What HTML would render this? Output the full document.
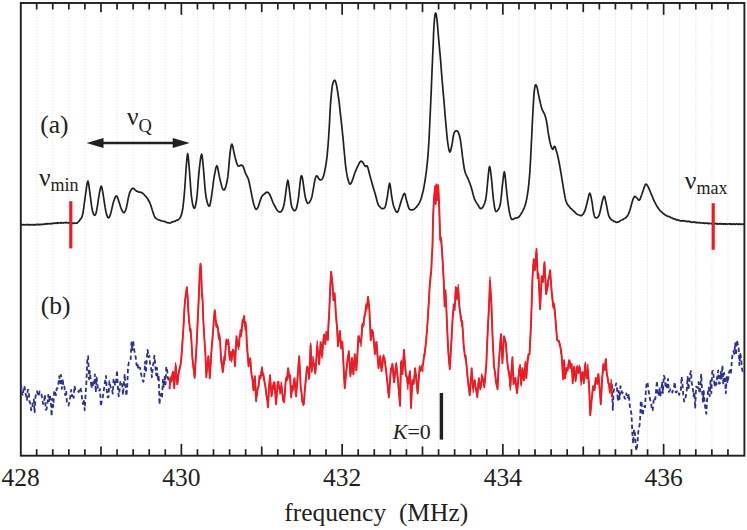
<!DOCTYPE html>
<html><head><meta charset="utf-8"><title>NMR spectrum</title>
<style>
html,body{margin:0;padding:0;background:#fff;}
body{width:747px;height:530px;overflow:hidden;font-family:"Liberation Serif",serif;}
svg{display:block;}
text{font-family:"Liberation Serif",serif;fill:#231f20;}
</style></head><body>
<svg width="747" height="530" viewBox="0 0 747 530">
<rect width="747" height="530" fill="#fff"/>
<g stroke="#e6e7ea" stroke-width="1" stroke-dasharray="1.7 1.5" fill="none">
<line x1="36.68" y1="4.0" x2="36.68" y2="454.7"/><line x1="52.75" y1="4.0" x2="52.75" y2="454.7"/><line x1="68.83" y1="4.0" x2="68.83" y2="454.7"/><line x1="84.90" y1="4.0" x2="84.90" y2="454.7"/><line x1="100.98" y1="4.0" x2="100.98" y2="454.7"/><line x1="117.06" y1="4.0" x2="117.06" y2="454.7"/><line x1="133.13" y1="4.0" x2="133.13" y2="454.7"/><line x1="149.21" y1="4.0" x2="149.21" y2="454.7"/><line x1="165.28" y1="4.0" x2="165.28" y2="454.7"/><line x1="181.36" y1="4.0" x2="181.36" y2="454.7"/><line x1="197.44" y1="4.0" x2="197.44" y2="454.7"/><line x1="213.51" y1="4.0" x2="213.51" y2="454.7"/><line x1="229.59" y1="4.0" x2="229.59" y2="454.7"/><line x1="245.66" y1="4.0" x2="245.66" y2="454.7"/><line x1="261.74" y1="4.0" x2="261.74" y2="454.7"/><line x1="277.82" y1="4.0" x2="277.82" y2="454.7"/><line x1="293.89" y1="4.0" x2="293.89" y2="454.7"/><line x1="309.97" y1="4.0" x2="309.97" y2="454.7"/><line x1="326.04" y1="4.0" x2="326.04" y2="454.7"/><line x1="342.12" y1="4.0" x2="342.12" y2="454.7"/><line x1="358.20" y1="4.0" x2="358.20" y2="454.7"/><line x1="374.27" y1="4.0" x2="374.27" y2="454.7"/><line x1="390.35" y1="4.0" x2="390.35" y2="454.7"/><line x1="406.42" y1="4.0" x2="406.42" y2="454.7"/><line x1="422.50" y1="4.0" x2="422.50" y2="454.7"/><line x1="438.58" y1="4.0" x2="438.58" y2="454.7"/><line x1="454.65" y1="4.0" x2="454.65" y2="454.7"/><line x1="470.73" y1="4.0" x2="470.73" y2="454.7"/><line x1="486.80" y1="4.0" x2="486.80" y2="454.7"/><line x1="502.88" y1="4.0" x2="502.88" y2="454.7"/><line x1="518.96" y1="4.0" x2="518.96" y2="454.7"/><line x1="535.03" y1="4.0" x2="535.03" y2="454.7"/><line x1="551.11" y1="4.0" x2="551.11" y2="454.7"/><line x1="567.18" y1="4.0" x2="567.18" y2="454.7"/><line x1="583.26" y1="4.0" x2="583.26" y2="454.7"/><line x1="599.34" y1="4.0" x2="599.34" y2="454.7"/><line x1="615.41" y1="4.0" x2="615.41" y2="454.7"/><line x1="631.49" y1="4.0" x2="631.49" y2="454.7"/><line x1="647.56" y1="4.0" x2="647.56" y2="454.7"/><line x1="663.64" y1="4.0" x2="663.64" y2="454.7"/><line x1="679.72" y1="4.0" x2="679.72" y2="454.7"/><line x1="695.79" y1="4.0" x2="695.79" y2="454.7"/><line x1="711.87" y1="4.0" x2="711.87" y2="454.7"/><line x1="727.94" y1="4.0" x2="727.94" y2="454.7"/>
</g>
<g stroke="#231f20" stroke-width="1.7" fill="none">
<line x1="36.68" y1="3.0" x2="36.68" y2="9.5"/><line x1="36.68" y1="455.7" x2="36.68" y2="449.2"/><line x1="52.75" y1="3.0" x2="52.75" y2="9.5"/><line x1="52.75" y1="455.7" x2="52.75" y2="449.2"/><line x1="68.83" y1="3.0" x2="68.83" y2="9.5"/><line x1="68.83" y1="455.7" x2="68.83" y2="449.2"/><line x1="84.90" y1="3.0" x2="84.90" y2="9.5"/><line x1="84.90" y1="455.7" x2="84.90" y2="449.2"/><line x1="100.98" y1="3.0" x2="100.98" y2="12.2"/><line x1="100.98" y1="455.7" x2="100.98" y2="446.5"/><line x1="117.06" y1="3.0" x2="117.06" y2="9.5"/><line x1="117.06" y1="455.7" x2="117.06" y2="449.2"/><line x1="133.13" y1="3.0" x2="133.13" y2="9.5"/><line x1="133.13" y1="455.7" x2="133.13" y2="449.2"/><line x1="149.21" y1="3.0" x2="149.21" y2="9.5"/><line x1="149.21" y1="455.7" x2="149.21" y2="449.2"/><line x1="165.28" y1="3.0" x2="165.28" y2="9.5"/><line x1="165.28" y1="455.7" x2="165.28" y2="449.2"/><line x1="181.36" y1="3.0" x2="181.36" y2="14.8"/><line x1="181.36" y1="455.7" x2="181.36" y2="443.9"/><line x1="197.44" y1="3.0" x2="197.44" y2="9.5"/><line x1="197.44" y1="455.7" x2="197.44" y2="449.2"/><line x1="213.51" y1="3.0" x2="213.51" y2="9.5"/><line x1="213.51" y1="455.7" x2="213.51" y2="449.2"/><line x1="229.59" y1="3.0" x2="229.59" y2="9.5"/><line x1="229.59" y1="455.7" x2="229.59" y2="449.2"/><line x1="245.66" y1="3.0" x2="245.66" y2="9.5"/><line x1="245.66" y1="455.7" x2="245.66" y2="449.2"/><line x1="261.74" y1="3.0" x2="261.74" y2="12.2"/><line x1="261.74" y1="455.7" x2="261.74" y2="446.5"/><line x1="277.82" y1="3.0" x2="277.82" y2="9.5"/><line x1="277.82" y1="455.7" x2="277.82" y2="449.2"/><line x1="293.89" y1="3.0" x2="293.89" y2="9.5"/><line x1="293.89" y1="455.7" x2="293.89" y2="449.2"/><line x1="309.97" y1="3.0" x2="309.97" y2="9.5"/><line x1="309.97" y1="455.7" x2="309.97" y2="449.2"/><line x1="326.04" y1="3.0" x2="326.04" y2="9.5"/><line x1="326.04" y1="455.7" x2="326.04" y2="449.2"/><line x1="342.12" y1="3.0" x2="342.12" y2="14.8"/><line x1="342.12" y1="455.7" x2="342.12" y2="443.9"/><line x1="358.20" y1="3.0" x2="358.20" y2="9.5"/><line x1="358.20" y1="455.7" x2="358.20" y2="449.2"/><line x1="374.27" y1="3.0" x2="374.27" y2="9.5"/><line x1="374.27" y1="455.7" x2="374.27" y2="449.2"/><line x1="390.35" y1="3.0" x2="390.35" y2="9.5"/><line x1="390.35" y1="455.7" x2="390.35" y2="449.2"/><line x1="406.42" y1="3.0" x2="406.42" y2="9.5"/><line x1="406.42" y1="455.7" x2="406.42" y2="449.2"/><line x1="422.50" y1="3.0" x2="422.50" y2="12.2"/><line x1="422.50" y1="455.7" x2="422.50" y2="446.5"/><line x1="438.58" y1="3.0" x2="438.58" y2="9.5"/><line x1="438.58" y1="455.7" x2="438.58" y2="449.2"/><line x1="454.65" y1="3.0" x2="454.65" y2="9.5"/><line x1="454.65" y1="455.7" x2="454.65" y2="449.2"/><line x1="470.73" y1="3.0" x2="470.73" y2="9.5"/><line x1="470.73" y1="455.7" x2="470.73" y2="449.2"/><line x1="486.80" y1="3.0" x2="486.80" y2="9.5"/><line x1="486.80" y1="455.7" x2="486.80" y2="449.2"/><line x1="502.88" y1="3.0" x2="502.88" y2="14.8"/><line x1="502.88" y1="455.7" x2="502.88" y2="443.9"/><line x1="518.96" y1="3.0" x2="518.96" y2="9.5"/><line x1="518.96" y1="455.7" x2="518.96" y2="449.2"/><line x1="535.03" y1="3.0" x2="535.03" y2="9.5"/><line x1="535.03" y1="455.7" x2="535.03" y2="449.2"/><line x1="551.11" y1="3.0" x2="551.11" y2="9.5"/><line x1="551.11" y1="455.7" x2="551.11" y2="449.2"/><line x1="567.18" y1="3.0" x2="567.18" y2="9.5"/><line x1="567.18" y1="455.7" x2="567.18" y2="449.2"/><line x1="583.26" y1="3.0" x2="583.26" y2="12.2"/><line x1="583.26" y1="455.7" x2="583.26" y2="446.5"/><line x1="599.34" y1="3.0" x2="599.34" y2="9.5"/><line x1="599.34" y1="455.7" x2="599.34" y2="449.2"/><line x1="615.41" y1="3.0" x2="615.41" y2="9.5"/><line x1="615.41" y1="455.7" x2="615.41" y2="449.2"/><line x1="631.49" y1="3.0" x2="631.49" y2="9.5"/><line x1="631.49" y1="455.7" x2="631.49" y2="449.2"/><line x1="647.56" y1="3.0" x2="647.56" y2="9.5"/><line x1="647.56" y1="455.7" x2="647.56" y2="449.2"/><line x1="663.64" y1="3.0" x2="663.64" y2="14.8"/><line x1="663.64" y1="455.7" x2="663.64" y2="443.9"/><line x1="679.72" y1="3.0" x2="679.72" y2="9.5"/><line x1="679.72" y1="455.7" x2="679.72" y2="449.2"/><line x1="695.79" y1="3.0" x2="695.79" y2="9.5"/><line x1="695.79" y1="455.7" x2="695.79" y2="449.2"/><line x1="711.87" y1="3.0" x2="711.87" y2="9.5"/><line x1="711.87" y1="455.7" x2="711.87" y2="449.2"/><line x1="727.94" y1="3.0" x2="727.94" y2="9.5"/><line x1="727.94" y1="455.7" x2="727.94" y2="449.2"/>
</g>
<rect x="20.8" y="3.0" width="723.6" height="452.7" fill="none" stroke="#231f20" stroke-width="1.9"/>
<path d="M21.0,224.7 L22.0,224.9 L22.9,224.4 L23.9,224.9 L24.8,224.8 L25.7,224.5 L26.6,224.9 L27.5,224.5 L28.5,224.9 L29.4,224.6 L30.3,224.8 L31.3,224.9 L32.2,224.5 L33.2,225.1 L34.2,224.6 L35.1,224.9 L36.1,224.7 L37.0,224.3 L37.8,224.8 L38.7,224.3 L39.5,224.8 L40.4,224.3 L41.2,224.7 L42.1,224.3 L43.0,224.4 L43.9,224.0 L44.8,224.3 L45.7,223.7 L46.6,224.1 L47.5,223.6 L48.4,223.8 L49.3,223.5 L50.3,223.9 L51.3,223.4 L52.3,223.6 L53.2,223.2 L54.2,223.3 L55.1,223.0 L55.9,223.4 L56.8,222.9 L57.7,223.3 L58.5,222.8 L59.4,223.0 L60.3,222.7 L61.3,223.1 L62.2,222.6 L63.2,223.1 L64.1,222.8 L64.9,222.5 L65.8,222.9 L66.6,222.4 L67.4,222.9 L68.2,222.7 L69.0,223.1 L69.8,222.7 L70.7,223.2 L71.5,223.0 L72.4,223.4 L73.2,223.0 L74.1,223.4 L75.2,223.0 L76.3,223.3 L77.1,223.1 L78.0,222.3 L79.2,220.9 L80.3,219.3 L81.2,218.2 L81.9,217.0 L82.7,214.3 L83.6,209.1 L84.4,202.5 L85.3,196.2 L86.2,189.8 L87.0,183.8 L87.9,181.1 L88.7,183.9 L89.5,190.1 L90.3,196.2 L91.0,201.3 L91.6,206.2 L92.3,210.2 L93.1,212.9 L93.9,214.7 L94.7,215.3 L95.4,214.8 L96.0,213.2 L96.7,210.2 L97.6,205.0 L98.5,198.6 L99.4,193.2 L100.1,189.5 L100.8,186.8 L101.4,186.1 L102.0,188.0 L102.7,191.8 L103.4,196.2 L104.2,201.5 L105.1,207.4 L106.0,212.2 L106.8,215.2 L107.6,217.1 L108.4,217.9 L109.2,217.4 L110.0,215.7 L110.8,213.3 L111.6,209.9 L112.5,205.8 L113.4,202.2 L114.4,199.3 L115.4,196.9 L116.4,195.8 L117.2,196.6 L118.0,198.8 L118.8,201.2 L119.6,203.8 L120.5,206.8 L121.4,209.2 L122.3,211.0 L123.2,212.4 L124.1,212.7 L124.9,211.8 L125.7,210.0 L126.5,207.2 L127.4,202.8 L128.4,197.5 L129.5,193.2 L130.6,190.6 L131.7,188.9 L132.9,188.2 L134.0,188.7 L135.2,190.0 L136.5,191.2 L137.3,191.2 L138.1,191.7 L139.0,192.2 L139.9,192.0 L140.7,192.1 L141.5,192.6 L142.2,192.9 L142.9,193.5 L144.2,194.7 L145.5,196.2 L146.2,196.8 L146.9,197.9 L147.6,198.6 L148.3,200.0 L149.6,202.2 L150.6,204.8 L151.5,207.6 L152.3,210.3 L153.2,212.9 L154.0,215.3 L155.0,217.3 L156.2,218.6 L157.5,219.4 L158.3,219.9 L159.0,220.0 L159.8,220.1 L160.6,220.6 L161.5,220.9 L162.4,221.0 L163.2,221.3 L164.1,221.4 L164.9,221.6 L165.8,222.0 L166.6,222.6 L167.4,222.7 L168.3,222.7 L169.1,223.0 L169.9,223.1 L170.8,222.7 L171.6,222.1 L172.4,222.1 L173.3,221.6 L174.1,221.4 L175.0,221.3 L175.8,220.8 L176.7,220.1 L177.6,220.1 L178.3,219.8 L179.1,219.0 L180.3,217.4 L181.2,215.4 L182.1,212.3 L182.9,207.9 L183.5,202.4 L184.1,196.3 L184.7,189.3 L185.2,181.7 L185.7,174.2 L186.3,165.9 L187.0,157.7 L187.6,153.7 L188.2,156.2 L188.8,162.8 L189.4,170.2 L190.0,178.1 L190.6,186.9 L191.2,194.3 L191.9,199.6 L192.5,203.6 L193.2,206.3 L193.8,207.9 L194.4,208.3 L195.0,207.3 L195.6,205.1 L196.3,201.5 L197.0,196.3 L197.7,188.3 L198.4,178.7 L199.2,170.2 L200.0,163.0 L200.8,156.9 L201.6,154.1 L202.2,156.3 L202.8,161.8 L203.4,168.2 L204.0,175.3 L204.6,183.3 L205.2,190.2 L205.8,195.3 L206.5,199.3 L207.2,202.3 L208.0,204.7 L208.8,206.1 L209.6,205.9 L210.3,203.4 L211.1,199.2 L211.8,194.3 L212.6,188.5 L213.4,181.9 L214.3,176.2 L215.2,171.4 L216.0,167.4 L216.9,165.7 L217.7,167.7 L218.5,172.0 L219.3,176.2 L220.1,179.8 L221.0,183.4 L221.7,186.2 L222.3,188.1 L222.8,189.2 L223.3,189.8 L223.9,190.0 L224.6,189.7 L225.3,188.2 L226.1,185.3 L227.1,181.3 L227.9,176.2 L228.6,169.1 L229.3,160.9 L229.9,154.1 L230.6,149.1 L231.2,145.5 L231.9,144.1 L232.7,146.0 L233.5,150.1 L234.3,154.1 L235.1,157.4 L236.0,160.6 L236.7,163.1 L237.3,164.7 L237.8,165.6 L238.4,166.1 L239.3,166.0 L240.4,165.4 L241.4,165.1 L242.1,165.4 L242.8,166.0 L243.4,167.1 L244.0,168.8 L244.7,171.0 L245.4,173.2 L246.4,175.1 L247.4,177.0 L248.4,179.2 L249.1,181.9 L249.7,184.9 L250.4,188.2 L251.2,192.2 L252.0,196.5 L252.8,200.3 L253.5,203.2 L254.2,205.5 L254.8,207.3 L255.3,208.5 L255.9,209.2 L256.4,209.3 L257.0,208.9 L257.6,207.9 L258.4,206.3 L259.3,203.5 L260.4,200.1 L261.4,197.3 L262.4,195.7 L263.5,194.7 L264.5,193.9 L265.5,193.0 L266.5,192.3 L267.5,192.2 L268.4,192.7 L269.2,193.8 L270.1,195.3 L271.0,197.4 L272.0,200.0 L272.9,202.3 L273.8,204.2 L274.6,205.8 L275.5,207.3 L276.3,208.9 L277.2,210.3 L278.1,211.3 L279.2,211.9 L280.4,212.0 L281.5,211.3 L282.4,209.7 L283.3,207.4 L284.1,204.3 L284.8,200.0 L285.5,194.9 L286.1,190.2 L286.7,185.8 L287.3,181.9 L287.8,180.2 L288.3,181.9 L288.9,185.8 L289.4,190.2 L290.0,194.9 L290.6,200.1 L291.2,204.3 L291.8,206.8 L292.4,208.2 L293.0,209.3 L293.5,210.2 L294.0,210.6 L294.5,210.7 L295.1,210.5 L295.7,209.8 L296.4,208.3 L297.1,205.8 L297.7,202.5 L298.4,198.3 L299.1,192.4 L299.8,185.5 L300.4,180.2 L300.8,177.3 L301.2,176.0 L301.6,175.8 L302.1,176.8 L302.6,179.1 L303.1,182.2 L303.7,186.6 L304.4,191.8 L305.1,196.3 L305.9,199.6 L306.8,202.0 L307.7,203.3 L308.8,203.0 L310.0,201.4 L311.1,199.3 L311.9,196.7 L312.5,193.6 L313.1,190.2 L313.8,186.4 L314.4,182.4 L315.1,179.2 L315.7,177.2 L316.2,176.1 L316.9,175.8 L317.8,176.8 L318.7,178.6 L319.7,179.8 L320.7,180.0 L321.7,179.5 L322.7,178.2 L323.6,175.9 L324.4,172.8 L325.1,169.2 L325.8,165.6 L326.4,161.6 L327.1,156.1 L327.8,148.3 L328.5,139.2 L329.1,130.0 L329.6,121.1 L330.0,112.2 L330.5,104.3 L331.0,97.6 L331.6,91.8 L332.1,87.2 L332.6,84.2 L333.2,82.4 L333.7,81.2 L334.2,80.4 L334.6,80.2 L335.1,80.6 L335.5,81.4 L336.0,82.9 L336.5,85.2 L337.2,88.9 L337.9,93.5 L338.6,98.2 L339.2,102.7 L339.7,107.3 L340.2,112.3 L340.9,118.1 L341.6,124.4 L342.2,130.0 L342.6,134.1 L343.0,137.6 L343.4,142.0 L343.9,148.3 L344.6,155.5 L345.2,162.1 L345.8,167.5 L346.5,172.2 L347.2,176.2 L348.0,179.6 L348.8,182.2 L349.6,183.8 L350.3,184.1 L351.0,183.3 L351.8,181.8 L352.7,179.4 L353.7,176.3 L354.7,173.2 L355.9,170.3 L357.1,167.5 L358.3,165.1 L359.2,163.2 L360.1,161.8 L360.9,161.1 L361.7,161.3 L362.5,162.1 L363.3,163.1 L364.0,164.3 L364.6,165.6 L365.3,166.5 L366.0,166.4 L366.6,165.8 L367.3,166.1 L367.9,167.8 L368.6,170.3 L369.3,173.2 L370.2,176.6 L371.3,180.5 L372.3,184.2 L373.3,187.7 L374.3,191.0 L375.3,194.3 L376.2,197.8 L377.1,201.2 L377.9,203.9 L378.7,205.6 L379.6,206.5 L380.4,207.3 L381.2,208.1 L382.0,208.6 L382.8,208.7 L383.7,208.5 L384.6,207.8 L385.4,206.3 L386.1,203.6 L386.7,200.1 L387.4,196.3 L388.1,191.3 L388.9,185.9 L389.6,183.2 L390.2,185.1 L390.8,189.7 L391.4,194.3 L392.0,198.1 L392.7,202.0 L393.4,205.3 L394.4,208.1 L395.4,210.5 L396.4,211.9 L397.1,212.3 L397.7,211.8 L398.4,210.3 L399.3,207.5 L400.4,203.7 L401.4,200.3 L402.5,197.2 L403.5,194.5 L404.5,193.3 L405.2,194.6 L405.8,197.4 L406.5,200.3 L407.3,203.1 L408.1,206.1 L408.9,208.3 L409.7,209.4 L410.6,209.8 L411.5,209.9 L412.4,209.9 L413.4,209.6 L414.5,208.9 L415.8,207.7 L416.5,207.1 L417.2,206.1 L418.5,204.3 L419.6,202.3 L420.6,200.0 L421.5,197.3 L422.4,194.1 L423.3,190.4 L424.1,186.2 L424.9,181.5 L425.7,176.2 L426.5,170.2 L427.2,163.6 L427.9,156.3 L428.5,148.0 L429.1,138.2 L429.6,127.3 L430.1,116.3 L430.6,105.5 L431.1,94.5 L431.5,84.0 L431.9,74.2 L432.3,64.7 L432.7,55.0 L433.2,44.1 L433.6,32.9 L434.1,24.0 L434.6,18.3 L435.0,14.7 L435.5,13.1 L436.0,13.4 L436.4,15.5 L436.9,19.1 L437.4,24.5 L438.0,31.3 L438.6,38.2 L439.2,44.8 L439.8,51.6 L440.4,58.1 L440.9,64.1 L441.3,69.9 L441.8,76.1 L442.4,83.1 L443.0,90.5 L443.7,98.2 L444.4,106.2 L445.0,114.4 L445.7,122.2 L446.4,129.6 L447.0,136.5 L447.7,142.3 L448.4,146.9 L449.0,150.3 L449.7,152.0 L450.4,151.5 L451.0,149.2 L451.7,146.3 L452.4,142.4 L453.0,137.9 L453.7,134.3 L454.4,132.4 L455.0,131.4 L455.7,130.9 L456.5,130.7 L457.3,131.0 L458.1,131.9 L458.8,133.5 L459.5,135.7 L460.1,138.3 L460.6,141.2 L461.0,144.4 L461.5,148.0 L462.0,152.2 L462.5,156.7 L463.1,161.0 L463.7,165.0 L464.3,168.8 L465.1,172.2 L466.1,174.8 L467.1,176.9 L468.2,179.2 L469.2,181.7 L470.2,184.3 L471.2,187.2 L472.2,190.8 L473.2,194.8 L474.2,198.3 L475.4,200.9 L476.6,202.9 L477.8,204.7 L478.8,206.5 L479.8,208.0 L480.8,208.7 L481.8,208.3 L482.8,207.1 L483.8,205.3 L484.7,203.1 L485.5,200.3 L486.2,196.3 L486.9,190.0 L487.6,182.5 L488.2,176.2 L488.7,171.5 L489.1,167.9 L489.6,166.5 L490.1,167.8 L490.6,171.3 L491.2,176.2 L491.9,183.0 L492.6,191.2 L493.3,198.3 L494.0,203.5 L494.6,207.5 L495.3,210.3 L495.9,211.5 L496.6,211.5 L497.3,210.7 L498.3,209.5 L499.3,207.6 L500.3,204.3 L501.0,199.0 L501.7,192.4 L502.3,186.2 L503.0,180.1 L503.7,174.5 L504.3,171.8 L504.8,173.7 L505.4,178.7 L505.9,184.2 L506.5,190.0 L507.2,196.5 L507.9,202.3 L508.6,207.0 L509.2,211.0 L509.9,214.3 L510.5,216.8 L511.1,218.4 L511.9,219.4 L512.9,219.4 L514.1,218.7 L515.3,218.0 L516.4,217.8 L517.4,217.8 L518.4,217.3 L519.4,216.3 L520.4,214.9 L521.4,213.3 L522.4,211.6 L523.4,209.6 L524.4,207.3 L525.3,204.7 L526.1,201.8 L526.8,198.3 L527.5,194.1 L528.2,189.4 L528.8,184.2 L529.3,178.7 L529.8,172.7 L530.2,166.1 L530.6,158.6 L531.0,150.5 L531.4,142.0 L531.9,132.7 L532.3,123.0 L532.8,114.2 L533.2,106.5 L533.6,99.7 L534.0,94.1 L534.4,89.9 L534.9,86.9 L535.4,85.1 L535.9,84.8 L536.5,85.7 L537.0,87.1 L537.5,89.1 L537.9,91.6 L538.4,94.1 L538.9,96.4 L539.4,98.8 L540.0,101.2 L540.6,103.9 L541.3,106.7 L542.0,109.2 L542.8,111.0 L543.7,112.5 L544.5,114.2 L545.2,116.2 L545.9,118.3 L546.5,121.2 L547.2,125.2 L547.8,129.9 L548.5,134.3 L549.2,138.0 L549.8,141.4 L550.5,144.3 L551.2,146.7 L552.0,148.5 L552.7,149.4 L553.3,148.7 L553.9,147.0 L554.5,146.2 L555.1,147.0 L555.7,148.7 L556.3,150.8 L557.0,153.1 L557.7,155.9 L558.5,159.5 L559.5,164.5 L560.5,170.4 L561.5,176.2 L562.4,181.8 L563.3,187.4 L564.1,192.2 L564.8,195.9 L565.4,198.9 L566.1,201.3 L566.8,203.2 L567.6,204.6 L568.6,205.9 L569.8,207.3 L570.5,208.2 L571.2,208.6 L571.9,209.4 L572.6,209.9 L573.3,210.8 L574.0,211.3 L574.6,211.7 L575.3,212.8 L576.6,213.9 L577.8,214.6 L579.0,215.0 L580.0,215.3 L580.7,215.6 L581.3,215.7 L582.0,215.3 L583.0,214.2 L584.1,212.5 L585.1,210.2 L586.0,207.1 L586.9,203.5 L587.7,200.2 L588.4,197.1 L589.1,194.4 L589.7,193.2 L590.4,194.3 L591.0,196.9 L591.7,200.2 L592.4,204.4 L593.0,209.3 L593.7,213.3 L594.3,215.7 L594.9,217.2 L595.7,217.9 L596.8,217.9 L598.0,217.1 L599.1,215.3 L600.0,212.1 L600.9,208.0 L601.7,204.2 L602.5,200.7 L603.3,197.6 L604.1,196.2 L604.8,197.2 L605.4,199.9 L606.1,203.2 L606.9,207.1 L607.7,211.6 L608.6,215.3 L609.7,217.6 L610.9,219.1 L612.2,220.3 L613.0,220.6 L613.8,221.3 L614.7,221.4 L615.6,222.0 L616.4,222.5 L617.2,222.3 L617.9,221.8 L618.6,222.0 L619.8,221.2 L620.5,220.5 L621.2,220.3 L622.0,220.0 L622.9,219.5 L623.8,218.8 L624.6,218.5 L625.4,218.1 L626.2,217.3 L627.4,215.9 L628.3,214.3 L629.2,212.2 L630.1,209.4 L631.0,206.2 L631.8,203.2 L632.6,200.5 L633.5,198.1 L634.3,196.6 L635.1,196.4 L635.9,197.0 L636.7,197.8 L637.6,198.8 L638.4,200.0 L639.3,200.2 L640.2,198.9 L641.0,196.6 L641.9,194.2 L642.7,191.8 L643.6,189.2 L644.3,187.1 L644.9,185.6 L645.3,184.5 L645.9,184.1 L646.6,184.5 L647.4,185.6 L648.3,187.1 L649.2,189.1 L650.2,191.5 L651.3,194.2 L652.6,197.1 L653.2,198.9 L653.9,200.3 L654.6,201.9 L655.3,203.2 L656.6,205.7 L658.0,207.8 L658.7,209.0 L659.4,209.8 L660.2,210.8 L661.0,211.5 L661.8,212.0 L662.6,213.0 L663.5,213.8 L664.4,214.3 L665.3,215.1 L666.3,215.4 L667.2,216.2 L668.2,216.4 L669.3,216.6 L670.4,217.3 L671.2,217.8 L672.1,217.9 L672.9,218.4 L673.8,218.9 L674.7,218.8 L675.7,219.4 L676.6,219.9 L677.5,219.7 L678.4,220.3 L679.3,220.3 L680.2,220.9 L681.1,220.8 L682.0,221.1 L682.9,220.6 L683.8,221.0 L684.7,220.8 L685.6,221.4 L686.5,221.3 L687.3,221.6 L688.2,221.2 L689.0,221.6 L689.9,221.4 L690.7,222.1 L691.5,222.0 L692.5,222.4 L693.5,221.8 L694.5,222.3 L695.4,222.1 L696.3,222.8 L697.2,222.3 L698.1,222.6 L699.0,223.0 L699.8,222.6 L700.6,223.0 L701.4,222.8 L702.2,223.0 L703.1,223.3 L703.9,222.8 L704.8,223.5 L705.6,223.0 L706.5,223.3 L707.5,223.0 L708.5,223.8 L709.5,223.3 L710.5,223.5 L711.3,223.8 L712.2,223.4 L713.0,223.8 L713.8,223.4 L714.7,223.7 L715.6,223.4 L716.4,224.0 L717.3,223.5 L718.2,224.2 L719.1,223.7 L720.0,223.9 L720.9,223.6 L721.8,224.2 L722.7,223.6 L723.6,224.2 L724.5,223.8 L725.4,224.3 L726.3,223.8 L727.2,224.3 L728.1,224.0 L729.0,223.8 L730.0,224.3 L730.9,223.7 L731.8,224.4 L732.8,223.9 L733.7,224.3 L734.6,223.9 L735.5,224.4 L736.5,223.8 L737.4,224.1 L738.3,224.5 L739.3,223.8 L740.2,224.4 L741.2,224.0 L742.1,224.4 L743.1,224.0 L744.0,224.2" fill="none" stroke="#231f20" stroke-width="1.7" stroke-linejoin="round" stroke-linecap="round"/>
<path d="M21.0,384.3 L21.9,392.7 L22.7,395.6 L23.6,388.5 L24.4,386.0 L25.3,392.6 L26.1,395.2 L27.0,400.0 L27.8,389.8 L28.7,390.3 L29.5,401.8 L30.4,403.3 L31.2,410.4 L32.1,408.5 L32.9,402.3 L33.8,399.3 L34.6,412.9 L35.5,396.5 L36.3,392.8 L37.2,391.2 L38.0,396.4 L38.9,394.5 L39.7,391.4 L40.6,392.6 L41.4,394.2 L42.3,398.8 L43.1,404.2 L44.0,402.3 L44.8,394.4 L45.7,409.7 L46.5,409.6 L47.4,403.9 L48.2,395.0 L49.1,401.0 L49.9,395.3 L50.8,400.3 L51.6,416.2 L52.5,398.9 L53.3,406.8 L54.2,390.4 L55.0,392.3 L55.9,395.1 L56.7,388.4 L57.6,388.0 L58.4,384.1 L59.3,376.2 L60.1,383.0 L61.0,375.0 L61.8,388.9 L62.7,378.6 L63.5,387.2 L64.4,386.5 L65.2,395.2 L66.1,390.8 L66.9,402.0 L67.8,404.2 L68.6,405.6 L69.5,400.9 L70.3,396.9 L71.2,389.8 L72.0,396.4 L72.9,393.8 L73.7,397.9 L74.5,385.8 L75.4,390.2 L76.2,390.0 L77.1,390.1 L77.9,390.9 L78.8,392.1 L79.6,389.3 L80.5,387.5 L81.3,392.0 L82.2,399.4 L83.0,404.1 L83.9,399.7 L84.7,410.3 L85.6,393.6 L86.4,382.3 L87.3,360.4 L88.1,356.1 L89.0,379.2 L89.8,371.1 L90.7,379.7 L91.5,388.3 L92.4,381.1 L93.2,386.2 L94.1,385.1 L94.9,374.3 L95.8,392.4 L96.6,377.5 L97.5,385.2 L98.3,391.1 L99.2,390.7 L100.0,389.1 L100.9,406.4 L101.7,401.3 L102.6,398.1 L103.4,393.4 L104.3,386.8 L105.1,381.2 L106.0,375.8 L106.8,391.2 L107.7,397.3 L108.5,397.2 L109.4,381.2 L110.2,385.0 L111.1,389.3 L111.9,389.2 L112.8,393.7 L113.6,378.7 L114.5,382.5 L115.3,385.5 L116.2,380.6 L117.0,370.2 L117.9,388.3 L118.7,396.3 L119.6,389.9 L120.4,381.0 L121.3,383.1 L122.1,384.3 L123.0,395.0 L123.8,384.5 L124.7,374.0 L125.5,387.5 L126.4,396.1 L127.2,387.4 L128.1,366.5 L128.9,362.3 L129.8,362.0 L130.6,359.9 L131.5,342.3 L132.3,350.0 L133.2,340.6 L134.0,349.0 L134.9,353.2 L135.7,357.1 L136.6,365.3 L137.4,362.7 L138.3,369.8 L139.1,367.4 L140.0,367.8 L140.8,372.8 L141.7,376.4 L142.5,379.9 L143.4,381.8 L144.2,378.3 L145.1,361.6 L145.9,372.9 L146.8,358.0 L147.6,349.9 L148.5,357.3 L149.3,355.7 L150.2,364.9 L151.0,366.6 L151.9,377.3 L152.7,367.4 L153.6,362.4 L154.4,355.7 L155.3,365.1 L156.1,375.2 L157.0,368.0 L157.8,380.2 L158.7,375.0 L159.5,404.5 L160.4,394.6 L161.2,393.8 L162.1,397.4 L162.9,379.6 L163.8,387.6 L164.6,377.0 L165.5,384.4 L166.3,366.8 L167.2,370.2 L168.0,378.7 L168.9,380.5" fill="none" stroke="#2e3192" stroke-width="1.8" stroke-dasharray="4.3 2.8" stroke-linejoin="round"/>
<path d="M611.9,384.4 L612.8,409.9 L613.6,391.5 L614.5,387.2 L615.3,386.7 L616.2,383.4 L617.0,388.5 L617.9,401.1 L618.7,390.9 L619.6,399.2 L620.4,386.2 L621.3,388.1 L622.1,393.3 L623.0,393.0 L623.8,394.1 L624.7,398.7 L625.5,398.7 L626.4,393.5 L627.2,398.4 L628.1,396.9 L628.9,393.9 L629.8,406.2 L630.6,409.3 L631.5,414.3 L632.3,432.4 L633.2,443.5 L634.0,429.4 L634.9,432.8 L635.7,446.5 L636.6,450.7 L637.4,443.8 L638.3,431.6 L639.1,427.5 L640.0,422.4 L640.8,400.9 L641.7,402.9 L642.5,415.5 L643.4,410.8 L644.2,406.5 L645.1,407.2 L645.9,389.5 L646.8,382.0 L647.6,383.4 L648.5,389.7 L649.3,395.2 L650.2,400.2 L651.0,401.3 L651.9,410.6 L652.7,410.2 L653.6,400.9 L654.4,397.4 L655.3,399.2 L656.1,389.9 L657.0,380.8 L657.8,394.5 L658.7,395.9 L659.5,388.5 L660.4,395.5 L661.2,391.4 L662.1,381.7 L662.9,393.0 L663.8,375.6 L664.6,377.1 L665.5,385.9 L666.3,382.9 L667.2,389.3 L668.0,379.0 L668.9,391.9 L669.7,390.7 L670.6,389.0 L671.4,389.0 L672.3,392.6 L673.1,389.6 L674.0,386.9 L674.8,382.1 L675.7,392.4 L676.5,392.3 L677.4,390.5 L678.2,390.8 L679.1,394.9 L679.9,392.0 L680.8,391.4 L681.6,376.7 L682.5,384.6 L683.3,395.7 L684.2,401.6 L685.0,400.0 L685.9,395.8 L686.7,390.6 L687.6,376.9 L688.4,389.9 L689.3,382.7 L690.1,373.9 L691.0,371.0 L691.8,383.5 L692.7,386.5 L693.5,396.1 L694.4,392.2 L695.2,408.5 L696.1,386.6 L696.9,387.4 L697.8,387.9 L698.6,382.1 L699.5,393.6 L700.3,389.1 L701.2,373.9 L702.0,390.0 L702.9,401.8 L703.7,390.9 L704.6,401.6 L705.4,409.3 L706.3,413.8 L707.1,399.6 L708.0,391.9 L708.8,387.3 L709.7,396.2 L710.5,380.6 L711.4,393.3 L712.2,371.4 L713.1,370.7 L713.9,379.1 L714.8,387.0 L715.6,380.6 L716.5,384.6 L717.3,376.3 L718.2,370.3 L719.0,383.6 L719.9,383.5 L720.7,371.9 L721.6,378.6 L722.4,365.1 L723.3,384.7 L724.1,373.0 L725.0,377.8 L725.8,393.3 L726.7,376.0 L727.5,383.1 L728.4,377.3 L729.2,371.5 L730.1,370.2 L730.9,373.4 L731.8,360.8 L732.6,353.5 L733.5,351.3 L734.3,354.0 L735.2,343.1 L736.0,355.2 L736.9,340.2 L737.7,343.4 L738.6,346.5 L739.4,365.2 L740.3,353.9 L741.1,357.3 L742.0,368.8 L742.8,372.5" fill="none" stroke="#2e3192" stroke-width="1.8" stroke-dasharray="4.3 2.8" stroke-linejoin="round"/>
<path d="M169.6,386.5 L170.2,376.8 L170.8,379.7 L171.4,377.6 L172.0,375.8 L172.6,371.3 L173.2,373.5 L173.8,381.3 L174.4,383.6 L175.0,375.1 L175.6,362.8 L176.2,371.3 L176.8,377.1 L177.4,382.2 L178.0,380.7 L178.6,372.5 L179.2,369.5 L179.8,369.7 L180.4,364.0 L181.0,361.4 L181.6,352.3 L182.2,344.5 L182.8,334.4 L183.4,329.4 L184.0,317.9 L184.6,305.8 L185.2,299.9 L185.8,293.6 L186.4,296.7 L187.0,290.7 L187.6,295.8 L188.2,309.2 L188.8,320.0 L189.4,323.0 L190.0,331.7 L190.6,330.5 L191.2,337.1 L191.8,348.5 L192.4,359.4 L193.0,363.7 L193.6,368.7 L194.2,376.2 L194.8,376.2 L195.4,364.7 L196.0,357.9 L196.6,344.7 L197.2,332.2 L197.8,317.2 L198.4,306.7 L199.0,292.5 L199.6,277.9 L200.2,270.2 L200.8,267.9 L201.4,278.3 L202.0,297.1 L202.6,301.0 L203.2,316.7 L203.8,327.7 L204.4,337.8 L205.0,348.1 L205.6,357.5 L206.2,373.8 L206.8,370.9 L207.4,364.8 L208.0,357.0 L208.6,359.5 L209.2,368.9 L209.8,377.0 L210.4,369.3 L211.0,358.8 L211.6,347.6 L212.2,341.8 L212.8,333.0 L213.4,329.8 L214.0,317.1 L214.6,310.4 L215.2,312.4 L215.8,321.7 L216.4,327.3 L217.0,327.0 L217.6,325.3 L218.2,330.5 L218.8,331.9 L219.4,335.6 L220.0,340.2 L220.6,350.3 L221.2,363.6 L221.8,360.3 L222.4,368.6 L223.0,370.2 L223.6,360.7 L224.2,364.1 L224.8,359.7 L225.4,351.8 L226.0,345.0 L226.6,344.1 L227.2,341.6 L227.8,341.7 L228.4,339.1 L229.0,348.3 L229.6,360.1 L230.2,351.8 L230.8,351.4 L231.4,361.9 L232.0,359.3 L232.6,349.3 L233.2,350.6 L233.8,350.7 L234.4,356.5 L235.0,364.0 L235.6,351.7 L236.2,340.2 L236.8,338.9 L237.4,344.6 L238.0,345.6 L238.6,349.5 L239.2,341.1 L239.8,334.6 L240.4,333.3 L241.0,337.0 L241.6,335.7 L242.2,325.9 L242.8,321.4 L243.4,318.0 L244.0,320.6 L244.6,323.0 L245.2,329.7 L245.8,324.4 L246.4,331.3 L247.0,349.1 L247.6,353.8 L248.2,360.9 L248.8,365.2 L249.4,361.8 L250.0,359.6 L250.6,360.4 L251.2,370.9 L251.8,377.1 L252.4,376.6 L253.0,388.0 L253.6,389.0 L254.2,378.9 L254.8,381.5 L255.4,386.2 L256.0,399.4 L256.6,396.2 L257.2,395.6 L257.8,388.8 L258.4,385.3 L259.0,380.0 L259.6,377.9 L260.2,379.0 L260.8,375.1 L261.4,374.7 L262.0,366.5 L262.6,371.2 L263.2,374.6 L263.8,377.4 L264.4,381.2 L265.0,385.1 L265.6,387.7 L266.2,393.9 L266.8,398.8 L267.4,399.8 L268.0,403.9 L268.6,396.2 L269.2,385.5 L269.8,378.3 L270.4,382.0 L271.0,389.2 L271.6,395.0 L272.2,393.3 L272.8,385.9 L273.4,389.5 L274.0,386.3 L274.6,383.7 L275.2,390.7 L275.8,401.3 L276.4,399.9 L277.0,390.6 L277.6,384.9 L278.2,384.4 L278.8,388.6 L279.4,387.5 L280.0,394.2 L280.6,392.4 L281.2,382.0 L281.8,385.5 L282.4,391.6 L283.0,400.7 L283.6,401.6 L284.2,401.5 L284.8,393.8 L285.4,383.5 L286.0,379.9 L286.6,376.6 L287.2,379.5 L287.8,371.1 L288.4,369.2 L289.0,373.5 L289.6,377.3 L290.2,381.1 L290.8,388.1 L291.4,395.7 L292.0,386.3 L292.6,391.2 L293.2,390.5 L293.8,381.4 L294.4,379.3 L295.0,386.9 L295.6,394.2 L296.2,393.6 L296.8,385.4 L297.4,380.1 L298.0,374.3 L298.6,365.8 L299.2,357.1 L299.8,369.0 L300.4,381.1 L301.0,390.3 L301.6,393.2 L302.2,402.2 L302.8,403.0 L303.4,405.7 L304.0,401.5 L304.6,392.0 L305.2,387.8 L305.8,382.2 L306.4,378.7 L307.0,366.0 L307.6,366.9 L308.2,368.5 L308.8,379.4 L309.4,369.6 L310.0,360.5 L310.6,343.2 L311.2,356.3 L311.8,372.3 L312.4,369.2 L313.0,356.3 L313.6,360.4 L314.2,364.1 L314.8,368.5 L315.4,373.8 L316.0,362.7 L316.6,355.3 L317.2,340.8 L317.8,351.0 L318.4,354.6 L319.0,363.6 L319.6,356.7 L320.2,351.6 L320.8,342.1 L321.4,352.6 L322.0,358.2 L322.6,348.6 L323.2,343.8 L323.8,334.7 L324.4,334.1 L325.0,343.6 L325.6,340.5 L326.2,336.5 L326.8,338.5 L327.4,333.4 L328.0,337.0 L328.6,322.5 L329.2,313.1 L329.8,298.3 L330.4,283.2 L331.0,273.0 L331.6,277.5 L332.2,278.5 L332.8,287.2 L333.4,295.7 L334.0,295.6 L334.6,297.0 L335.2,301.2 L335.8,313.7 L336.4,322.7 L337.0,329.1 L337.6,338.6 L338.2,344.1 L338.8,340.5 L339.4,334.9 L340.0,330.6 L340.6,340.6 L341.2,349.0 L341.8,343.6 L342.4,341.7 L343.0,354.6 L343.6,366.2 L344.2,379.3 L344.8,387.7 L345.4,381.2 L346.0,371.7 L346.6,368.1 L347.2,362.7 L347.8,356.4 L348.4,354.8 L349.0,354.2 L349.6,362.2 L350.2,373.9 L350.8,374.0 L351.4,369.7 L352.0,357.9 L352.6,364.0 L353.2,373.9 L353.8,371.4 L354.4,358.8 L355.0,357.6 L355.6,361.6 L356.2,370.3 L356.8,362.6 L357.4,353.5 L358.0,343.2 L358.6,336.5 L359.2,336.0 L359.8,339.8 L360.4,339.1 L361.0,346.5 L361.6,337.0 L362.2,325.4 L362.8,323.7 L363.4,326.8 L364.0,318.9 L364.6,314.0 L365.2,314.4 L365.8,311.3 L366.4,305.3 L367.0,309.1 L367.6,301.3 L368.2,298.2 L368.8,303.4 L369.4,309.4 L370.0,322.0 L370.6,338.7 L371.2,338.0 L371.8,329.5 L372.4,331.3 L373.0,331.2 L373.6,341.1 L374.2,346.0 L374.8,352.5 L375.4,349.5 L376.0,342.3 L376.6,341.9 L377.2,354.0 L377.8,357.4 L378.4,364.5 L379.0,364.0 L379.6,358.2 L380.2,355.4 L380.8,361.5 L381.4,367.6 L382.0,367.5 L382.6,357.9 L383.2,355.6 L383.8,354.9 L384.4,361.0 L385.0,361.5 L385.6,367.8 L386.2,370.5 L386.8,380.1 L387.4,379.4 L388.0,392.8 L388.6,391.3 L389.2,392.1 L389.8,382.2 L390.4,374.9 L391.0,371.2 L391.6,368.3 L392.2,363.4 L392.8,368.5 L393.4,377.7 L394.0,382.5 L394.6,376.9 L395.2,373.0 L395.8,367.8 L396.4,362.5 L397.0,370.5 L397.6,377.1 L398.2,385.9 L398.8,391.4 L399.4,398.4 L400.0,403.1 L400.6,379.4 L401.2,360.1 L401.8,369.2 L402.4,372.6 L403.0,366.3 L403.6,355.7 L404.2,352.3 L404.8,360.8 L405.4,369.9 L406.0,375.4 L406.6,376.6 L407.2,380.1 L407.8,389.3 L408.4,381.8 L409.0,376.8 L409.6,375.0 L410.2,376.9 L410.8,401.3 L411.4,398.4 L412.0,387.7 L412.6,380.1 L413.2,380.4 L413.8,382.9 L414.4,375.5 L415.0,371.7 L415.6,373.9 L416.2,377.2 L416.8,385.6 L417.4,391.6 L418.0,389.6 L418.6,381.9 L419.2,375.8 L419.8,365.7 L420.4,371.1 L421.0,369.1 L421.6,369.8 L422.2,369.4 L422.8,371.7 L423.4,359.8 L424.0,354.6 L424.6,356.1 L425.2,348.2 L425.8,343.6 L426.4,335.0 L427.0,331.6 L427.6,321.8 L428.2,309.9 L428.8,303.6 L429.4,291.3 L430.0,282.1 L430.6,273.4 L431.2,274.4 L431.8,257.1 L432.4,248.4 L433.0,220.8 L433.6,204.7 L434.2,196.9 L434.8,190.6 L435.4,196.0 L436.0,195.9 L436.6,187.7 L437.2,199.5 L437.8,193.9 L438.4,189.0 L439.0,202.3 L439.6,220.2 L440.2,236.3 L440.8,241.1 L441.4,244.4 L442.0,251.6 L442.6,260.7 L443.2,272.3 L443.8,283.6 L444.4,297.5 L445.0,297.3 L445.6,292.2 L446.2,304.0 L446.8,320.1 L447.4,332.8 L448.0,346.2 L448.6,356.1 L449.2,364.3 L449.8,365.5 L450.4,356.6 L451.0,345.6 L451.6,338.6 L452.2,324.9 L452.8,316.8 L453.4,311.0 L454.0,310.4 L454.6,307.5 L455.2,298.8 L455.8,287.2 L456.4,288.2 L457.0,300.2 L457.6,296.1 L458.2,284.5 L458.8,298.1 L459.4,306.9 L460.0,311.8 L460.6,314.2 L461.2,316.4 L461.8,326.2 L462.4,326.5 L463.0,334.0 L463.6,345.4 L464.2,347.5 L464.8,355.0 L465.4,355.9 L466.0,355.4 L466.6,365.0 L467.2,374.7 L467.8,380.9 L468.4,385.7 L469.0,389.4 L469.6,395.1 L470.2,385.4 L470.8,380.1 L471.4,378.8 L472.0,373.4 L472.6,382.3 L473.2,392.3 L473.8,383.9 L474.4,380.9 L475.0,382.5 L475.6,387.5 L476.2,387.7 L476.8,394.3 L477.4,395.1 L478.0,385.3 L478.6,382.3 L479.2,380.4 L479.8,383.9 L480.4,387.3 L481.0,387.0 L481.6,373.8 L482.2,378.8 L482.8,379.1 L483.4,382.2 L484.0,384.6 L484.6,383.0 L485.2,378.6 L485.8,368.1 L486.4,364.5 L487.0,346.2 L487.6,334.8 L488.2,321.8 L488.8,312.4 L489.4,296.5 L490.0,276.9 L490.6,291.7 L491.2,299.6 L491.8,315.9 L492.4,332.4 L493.0,344.8 L493.6,356.7 L494.2,367.8 L494.8,372.2 L495.4,376.6 L496.0,379.1 L496.6,385.6 L497.2,385.4 L497.8,381.4 L498.4,369.0 L499.0,363.1 L499.6,351.9 L500.2,342.9 L500.8,334.6 L501.4,341.9 L502.0,354.7 L502.6,359.4 L503.2,350.9 L503.8,338.3 L504.4,338.8 L505.0,340.2 L505.6,341.5 L506.2,348.2 L506.8,356.0 L507.4,361.4 L508.0,368.8 L508.6,370.0 L509.2,371.7 L509.8,384.6 L510.4,390.1 L511.0,374.3 L511.6,369.3 L512.2,360.6 L512.8,366.6 L513.4,380.3 L514.0,383.5 L514.6,381.3 L515.2,377.7 L515.8,383.3 L516.4,383.5 L517.0,385.7 L517.6,388.9 L518.2,383.0 L518.8,370.3 L519.4,367.4 L520.0,371.6 L520.6,374.6 L521.2,386.0 L521.8,378.7 L522.4,369.7 L523.0,369.7 L523.6,380.3 L524.2,379.8 L524.8,369.4 L525.4,361.3 L526.0,371.5 L526.6,371.0 L527.2,369.2 L527.8,360.9 L528.4,359.7 L529.0,355.0 L529.6,353.3 L530.2,338.2 L530.8,327.9 L531.4,312.5 L532.0,292.3 L532.6,275.5 L533.2,265.0 L533.8,262.1 L534.4,267.6 L535.0,268.1 L535.6,261.8 L536.2,252.3 L536.8,254.0 L537.4,269.4 L538.0,274.9 L538.6,277.1 L539.2,289.2 L539.8,304.2 L540.4,301.7 L541.0,291.5 L541.6,278.3 L542.2,281.9 L542.8,281.9 L543.4,277.3 L544.0,264.1 L544.6,265.2 L545.2,276.0 L545.8,289.2 L546.4,292.6 L547.0,284.8 L547.6,288.3 L548.2,284.2 L548.8,277.7 L549.4,277.0 L550.0,271.0 L550.6,280.5 L551.2,283.5 L551.8,295.3 L552.4,300.2 L553.0,301.6 L553.6,304.3 L554.2,307.0 L554.8,309.8 L555.4,317.6 L556.0,325.9 L556.6,333.0 L557.2,340.3 L557.8,340.8 L558.4,341.8 L559.0,340.4 L559.6,344.0 L560.2,343.9 L560.8,353.7 L561.4,353.3 L562.0,361.5 L562.6,370.3 L563.2,379.2 L563.8,364.7 L564.4,369.1 L565.0,377.6 L565.6,374.9 L566.2,373.7 L566.8,371.3 L567.4,369.8 L568.0,365.3 L568.6,364.2 L569.2,361.7 L569.8,362.3 L570.4,368.7 L571.0,365.6 L571.6,366.4 L572.2,373.4 L572.8,379.4 L573.4,370.9 L574.0,366.2 L574.6,366.8 L575.2,380.6 L575.8,381.7 L576.4,375.8 L577.0,368.0 L577.6,370.5 L578.2,367.7 L578.8,371.0 L579.4,365.1 L580.0,371.5 L580.6,375.4 L581.2,385.2 L581.8,374.9 L582.4,374.3 L583.0,378.0 L583.6,380.0 L584.2,378.2 L584.8,371.8 L585.4,362.2 L586.0,372.2 L586.6,377.5 L587.2,373.4 L587.8,364.2 L588.4,376.9 L589.0,381.8 L589.6,400.6 L590.2,414.4 L590.8,408.8 L591.4,400.8 L592.0,396.8 L592.6,389.5 L593.2,386.0 L593.8,390.1 L594.4,389.2 L595.0,386.6 L595.6,381.1 L596.2,381.3 L596.8,382.4 L597.4,382.5 L598.0,375.7 L598.6,374.1 L599.2,382.4 L599.8,392.7 L600.4,398.9 L601.0,400.2 L601.6,387.6 L602.2,377.2 L602.8,372.5 L603.4,369.4 L604.0,368.1 L604.6,366.6 L605.2,361.4 L605.8,358.9 L606.4,370.0 L607.0,376.4 L607.6,376.7 L608.2,382.2 L608.8,385.1 L609.4,391.0 L610.0,393.4 L610.6,389.3 L611.2,379.3 L611.8,397.0" fill="none" stroke="#ed1c24" stroke-width="1.2" stroke-linejoin="round"/>
<path d="M169.6,389.3 L169.9,383.8 L170.2,378.2 L171.0,381.9 L171.8,380.0 L172.5,374.6 L173.2,372.2 L173.7,380.8 L174.2,388.3 L175.0,377.1 L175.8,366.2 L176.5,375.1 L177.2,384.3 L177.7,382.5 L178.2,376.0 L178.7,373.4 L179.2,370.2 L179.7,368.0 L180.2,366.0 L180.7,364.3 L181.2,360.2 L181.7,354.1 L182.2,346.4 L182.8,338.2 L183.3,330.0 L183.8,320.3 L184.3,310.2 L184.9,302.2 L185.6,296.0 L186.2,291.0 L186.9,287.1 L187.2,291.2 L187.6,296.0 L187.9,302.6 L188.3,310.2 L188.7,315.2 L189.1,322.0 L189.5,324.5 L189.9,330.3 L190.2,329.1 L190.6,329.0 L190.9,333.6 L191.3,338.4 L191.8,347.0 L192.3,356.0 L192.9,362.1 L193.4,368.0 L194.1,371.1 L194.7,377.8 L195.1,369.9 L195.5,362.0 L195.9,356.1 L196.3,350.0 L196.8,340.4 L197.3,330.3 L197.7,320.9 L198.1,312.0 L198.4,305.9 L198.7,300.2 L199.0,291.6 L199.3,284.0 L199.6,276.9 L199.9,270.1 L200.4,263.8 L200.9,265.7 L201.2,271.5 L201.4,278.0 L201.7,287.2 L201.9,296.2 L202.2,294.4 L202.6,300.0 L202.9,310.3 L203.3,320.3 L203.8,329.3 L204.3,338.0 L204.8,344.8 L205.3,352.0 L205.8,364.7 L206.3,377.2 L206.9,371.0 L207.4,364.0 L207.9,361.4 L208.4,356.1 L209.1,367.0 L209.8,378.2 L210.2,371.7 L210.6,366.0 L211.0,358.7 L211.4,352.0 L211.9,345.2 L212.4,340.0 L212.9,333.1 L213.4,326.3 L213.8,320.7 L214.1,316.0 L214.4,314.4 L214.8,310.2 L215.2,313.6 L215.6,320.0 L216.0,321.7 L216.4,326.3 L216.9,324.5 L217.4,327.0 L217.9,327.7 L218.4,334.3 L218.9,339.0 L219.4,335.0 L219.9,338.6 L220.4,346.4 L220.7,352.2 L221.0,358.2 L221.9,364.5 L222.8,372.2 L223.3,368.8 L223.8,362.0 L224.3,356.7 L224.8,360.2 L225.2,354.7 L225.6,348.0 L226.0,343.0 L226.4,339.4 L226.9,341.4 L227.4,344.0 L227.9,341.5 L228.4,342.0 L228.9,349.5 L229.4,356.1 L229.9,351.9 L230.4,352.0 L230.9,355.9 L231.4,360.0 L231.9,356.5 L232.4,352.0 L232.9,355.1 L233.5,350.1 L234.2,356.0 L234.9,366.2 L235.4,357.8 L235.9,348.0 L236.2,342.5 L236.5,336.3 L237.1,340.5 L237.7,346.0 L238.3,346.8 L238.9,346.1 L239.3,340.7 L239.7,336.0 L240.1,335.5 L240.5,330.3 L241.0,331.6 L241.5,332.0 L242.0,326.0 L242.5,320.3 L242.9,320.7 L243.3,322.0 L243.7,318.7 L244.1,315.9 L244.4,320.8 L244.8,326.0 L245.2,322.6 L245.5,322.0 L245.8,327.0 L246.1,326.3 L246.5,335.7 L246.9,346.1 L247.2,345.3 L247.5,352.0 L248.0,359.0 L248.5,366.2 L249.3,361.9 L250.1,358.2 L250.8,366.5 L251.5,374.2 L252.0,376.8 L252.5,380.0 L253.0,385.0 L253.5,390.3 L254.2,383.6 L254.9,376.2 L255.5,389.1 L256.1,401.3 L256.7,395.2 L257.3,390.0 L258.0,387.4 L258.6,386.3 L259.0,382.6 L259.4,376.0 L260.0,378.2 L260.6,378.0 L261.3,371.7 L262.0,368.2 L262.7,375.5 L263.4,374.0 L264.2,380.3 L265.0,384.3 L265.8,389.5 L266.6,396.3 L267.3,400.3 L268.0,407.3 L268.5,397.8 L269.0,388.0 L269.5,381.0 L270.0,375.2 L270.8,385.0 L271.6,396.3 L272.3,389.4 L273.0,386.0 L273.8,383.0 L274.5,382.2 L275.3,394.0 L276.1,404.3 L276.9,393.0 L277.7,382.2 L278.4,381.7 L279.0,387.0 L279.6,389.6 L280.1,389.3 L280.6,387.8 L281.2,386.0 L281.6,390.4 L282.1,392.3 L283.1,399.4 L284.1,402.3 L284.6,395.0 L285.2,388.0 L285.6,383.0 L286.1,378.2 L286.6,379.0 L287.1,380.0 L287.6,373.1 L288.1,368.2 L288.6,373.0 L289.2,376.0 L289.6,378.7 L290.1,375.2 L290.6,386.3 L291.1,397.3 L291.6,391.4 L292.1,386.0 L292.6,386.6 L293.1,388.3 L293.8,382.2 L294.5,378.2 L295.3,386.5 L296.1,396.3 L297.0,385.0 L297.8,374.2 L298.5,364.5 L299.2,356.1 L300.0,372.0 L300.8,388.3 L301.5,392.4 L302.2,400.3 L303.0,403.0 L303.8,404.3 L304.3,397.2 L304.8,390.0 L305.3,383.9 L305.8,380.2 L306.5,371.1 L307.2,367.2 L307.7,368.1 L308.2,369.0 L308.7,374.8 L309.2,378.2 L309.9,361.4 L310.6,345.1 L311.2,357.5 L311.8,370.2 L312.5,365.7 L313.2,363.2 L313.7,365.1 L314.2,364.0 L314.7,367.6 L315.2,373.2 L315.7,368.5 L316.2,362.0 L316.7,353.9 L317.2,346.1 L317.7,350.5 L318.2,352.0 L318.7,358.1 L319.2,364.2 L319.9,353.0 L320.6,342.1 L321.4,346.7 L322.2,355.1 L323.0,344.5 L323.9,335.1 L324.6,339.2 L325.3,344.1 L325.8,338.6 L326.3,332.0 L327.1,336.5 L327.9,340.1 L328.2,330.9 L328.6,322.0 L329.0,316.3 L329.3,310.2 L329.8,298.4 L330.3,286.1 L330.7,278.8 L331.1,271.7 L331.7,276.4 L332.3,282.1 L332.9,290.9 L333.5,300.2 L334.1,298.0 L334.7,293.2 L335.3,304.0 L335.9,314.3 L336.6,321.5 L337.3,330.3 L337.6,338.4 L337.9,346.4 L338.4,342.5 L338.9,340.0 L339.4,334.8 L339.9,331.3 L340.6,340.7 L341.3,348.1 L341.8,346.3 L342.3,342.0 L342.8,350.8 L343.3,360.2 L344.0,374.3 L344.7,388.3 L345.2,383.6 L345.7,378.0 L346.2,372.4 L346.7,368.2 L347.2,363.0 L347.8,358.0 L348.3,355.5 L348.8,351.1 L349.6,362.6 L350.4,376.2 L351.2,367.5 L352.0,358.2 L352.7,366.9 L353.4,374.2 L354.1,364.5 L354.8,354.1 L355.6,360.8 L356.4,370.2 L357.0,360.8 L357.6,351.1 L358.0,343.3 L358.4,336.3 L358.9,339.3 L359.4,340.0 L360.2,342.4 L361.0,342.1 L361.7,333.4 L362.4,324.3 L362.9,323.5 L363.4,326.0 L363.9,320.5 L364.4,316.3 L364.9,315.7 L365.4,312.0 L365.9,306.9 L366.4,304.2 L366.8,306.2 L367.2,306.0 L367.6,301.7 L368.0,296.6 L368.7,303.1 L369.4,310.2 L370.1,326.1 L370.8,340.4 L371.3,335.3 L371.8,330.0 L372.4,335.8 L372.9,332.3 L373.9,341.3 L374.9,354.1 L375.7,345.1 L376.5,342.1 L377.5,355.9 L378.5,368.2 L379.3,363.6 L380.1,357.1 L380.8,363.8 L381.5,371.2 L382.5,364.1 L383.5,357.1 L384.5,358.2 L385.5,366.2 L386.5,374.5 L387.5,384.3 L388.2,389.6 L388.9,397.3 L389.9,382.6 L390.9,368.2 L391.7,368.1 L392.5,364.2 L393.3,373.2 L394.1,382.2 L395.1,373.6 L396.1,364.2 L396.8,369.4 L397.5,375.7 L398.2,382.2 L399.1,394.1 L400.0,405.9 L400.5,384.0 L401.0,362.2 L401.7,369.7 L402.4,374.2 L403.2,361.4 L404.0,349.7 L405.0,364.3 L406.0,376.2 L406.8,376.5 L407.6,383.1 L408.4,383.3 L409.2,376.2 L410.0,371.2 L410.5,389.8 L411.0,408.0 L411.7,394.2 L412.4,380.2 L413.0,382.9 L413.6,384.0 L414.4,376.8 L415.1,368.2 L415.8,373.4 L416.4,380.0 L417.0,385.6 L417.7,393.3 L418.7,378.7 L419.7,367.2 L420.5,370.9 L421.4,369.0 L422.2,365.1 L423.1,364.2 L424.1,356.3 L425.1,350.1 L425.8,344.0 L426.4,338.0 L427.2,327.5 L428.1,314.3 L428.9,299.4 L429.7,286.2 L430.5,278.5 L431.3,270.2 L431.6,263.0 L431.9,256.0 L432.2,251.3 L432.5,246.1 L432.8,231.0 L433.1,216.2 L433.6,206.0 L434.1,196.1 L434.6,192.0 L435.1,186.1 L435.4,195.3 L435.7,204.0 L436.1,194.7 L436.5,184.5 L436.9,191.9 L437.3,200.0 L437.8,192.6 L438.2,185.1 L438.7,195.6 L439.2,206.1 L439.7,222.8 L440.2,240.0 L440.8,237.2 L441.4,241.0 L442.0,251.0 L442.6,260.1 L443.2,271.3 L443.8,282.2 L444.2,294.2 L444.6,306.3 L445.0,298.7 L445.4,290.2 L446.0,301.7 L446.6,314.0 L447.0,324.1 L447.4,334.0 L447.8,342.1 L448.2,350.1 L449.0,359.6 L449.8,369.2 L450.6,355.8 L451.4,342.0 L452.0,330.3 L452.6,318.4 L453.2,311.6 L453.8,304.3 L454.2,307.5 L454.6,310.0 L455.2,299.4 L455.8,287.2 L456.4,292.4 L457.0,298.3 L457.6,294.2 L458.2,287.8 L458.8,297.4 L459.4,306.3 L460.1,311.9 L460.8,318.4 L461.5,321.5 L462.2,321.0 L463.0,334.1 L463.9,348.1 L464.9,356.0 L465.9,360.2 L466.9,369.4 L467.9,380.2 L468.8,387.1 L469.7,395.3 L470.7,382.0 L471.7,368.2 L472.3,378.7 L472.9,388.3 L473.8,385.9 L474.7,380.2 L475.3,385.8 L475.9,389.0 L476.6,392.8 L477.3,397.3 L478.1,387.0 L478.9,378.2 L479.6,384.5 L480.3,389.3 L481.3,383.2 L482.3,376.2 L483.3,380.2 L484.3,387.3 L485.3,376.6 L486.3,364.2 L486.9,350.2 L487.5,336.0 L488.1,322.8 L488.8,310.3 L489.4,295.9 L490.0,281.2 L490.7,292.1 L491.4,304.3 L492.0,321.0 L492.6,338.1 L493.3,352.3 L494.0,366.2 L495.0,372.2 L496.0,382.2 L496.8,385.8 L497.6,389.3 L498.2,375.3 L498.8,362.2 L499.3,356.7 L499.8,350.0 L500.4,341.5 L501.0,334.1 L501.7,348.7 L502.4,363.2 L503.2,348.9 L504.0,336.1 L505.0,339.4 L506.0,344.1 L506.7,354.3 L507.4,363.2 L508.4,370.4 L509.4,376.2 L509.9,379.4 L510.4,386.3 L511.4,372.3 L512.4,357.1 L513.0,370.9 L513.5,384.3 L514.5,380.4 L515.4,378.0 L516.2,387.3 L517.1,393.3 L517.8,383.9 L518.5,376.2 L519.3,370.6 L520.1,365.2 L520.6,375.2 L521.1,384.3 L521.8,377.4 L522.5,368.2 L523.3,375.9 L524.1,380.2 L524.8,370.8 L525.5,363.2 L526.0,369.7 L526.4,378.0 L527.0,369.3 L527.5,360.2 L528.5,354.2 L529.5,354.1 L530.0,346.0 L530.4,338.0 L530.7,330.8 L531.0,324.3 L531.4,312.3 L531.8,300.0 L532.1,290.2 L532.4,280.2 L533.0,270.0 L533.7,259.1 L534.3,264.6 L534.9,270.1 L535.7,259.6 L536.5,249.0 L537.1,263.5 L537.7,278.2 L538.1,276.8 L538.5,274.0 L539.3,291.7 L540.1,309.3 L540.9,292.9 L541.7,276.1 L542.3,278.3 L542.9,282.0 L543.7,273.6 L544.5,262.1 L545.3,278.3 L546.1,294.2 L547.1,289.2 L548.1,280.2 L549.1,277.5 L550.1,270.1 L550.9,280.5 L551.7,292.2 L552.4,297.5 L553.1,306.3 L553.6,307.9 L554.1,304.0 L554.9,312.8 L555.7,322.3 L556.4,331.2 L557.1,340.0 L558.1,340.4 L559.1,342.0 L559.6,344.3 L560.1,346.0 L560.9,349.2 L561.7,356.1 L562.4,367.6 L563.1,379.2 L563.6,369.5 L564.1,360.1 L564.6,369.1 L565.1,378.2 L565.8,369.9 L566.5,368.0 L567.1,370.8 L567.7,370.0 L568.4,365.5 L569.1,360.1 L569.8,361.2 L570.5,368.0 L571.1,364.6 L571.7,364.1 L572.2,373.7 L572.7,383.2 L573.4,375.7 L574.1,367.1 L574.9,373.2 L575.7,379.2 L576.4,374.2 L577.1,366.1 L577.8,369.6 L578.5,373.0 L579.1,368.2 L579.7,367.0 L580.5,373.4 L581.2,381.2 L581.9,377.7 L582.6,372.0 L583.2,376.9 L583.8,383.2 L584.5,374.2 L585.2,364.1 L585.9,372.2 L586.6,378.2 L587.2,375.0 L587.8,370.0 L588.5,379.9 L589.2,388.2 L589.7,401.7 L590.2,415.3 L591.0,406.8 L591.8,398.3 L592.5,391.5 L593.2,386.2 L593.9,386.8 L594.6,390.0 L595.2,382.4 L595.8,378.0 L596.5,380.0 L597.2,384.0 L597.7,378.0 L598.2,374.2 L599.0,380.6 L599.8,390.0 L600.3,397.2 L600.8,404.3 L601.5,391.4 L602.2,378.2 L602.8,370.9 L603.3,364.1 L604.0,369.6 L604.7,370.0 L605.3,365.6 L605.9,359.1 L606.4,367.3 L606.9,374.2 L607.6,377.8 L608.3,383.2 L609.1,383.8 L609.9,390.0 L610.6,387.6 L611.3,383.2 L611.6,390.3 L611.9,397.3" fill="none" stroke="#ed1c24" stroke-width="1.9" stroke-linejoin="round"/>
<!-- markers -->
<line x1="70.8" y1="201.2" x2="70.8" y2="248.4" stroke="#ed1c24" stroke-width="3.2"/>
<line x1="713.2" y1="203.2" x2="713.2" y2="249.8" stroke="#ed1c24" stroke-width="3.2"/>
<line x1="441.4" y1="393" x2="441.4" y2="439.6" stroke="#231f20" stroke-width="3.4"/>
<!-- arrow -->
<line x1="100" y1="143" x2="176" y2="143" stroke="#231f20" stroke-width="2.4"/>
<path d="M86.5,143 L103.5,138.1 L103.5,147.9 Z M189.7,143 L172.7,138.1 L172.7,147.9 Z" fill="#231f20"/>
<!-- labels -->
<text x="20.6" y="486" text-anchor="middle" font-size="25.5">428</text><text x="181.4" y="486" text-anchor="middle" font-size="25.5">430</text><text x="342.1" y="486" text-anchor="middle" font-size="25.5">432</text><text x="502.9" y="486" text-anchor="middle" font-size="25.5">434</text><text x="663.6" y="486" text-anchor="middle" font-size="25.5">436</text>
<text x="284.2" y="521" font-size="25.5" xml:space="preserve">frequency  (MHz)</text>
<text x="40.2" y="132.8" font-size="25.5">(a)</text>
<text x="40.7" y="314.2" font-size="25.5">(b)</text>
<text x="127" y="125.3" font-size="25.5">ν<tspan font-size="18.5" dy="6.8">Q</tspan></text>
<text x="38.9" y="185.7" font-size="25.5">ν<tspan font-size="18" dy="5.6">min</tspan></text>
<text x="684.8" y="189.0" font-size="25.8">ν<tspan font-size="18" dy="5.4">max</tspan></text>
<text x="392.7" y="439.2" font-size="22"><tspan font-style="italic">K</tspan>=0</text>
</svg>
</body></html>
